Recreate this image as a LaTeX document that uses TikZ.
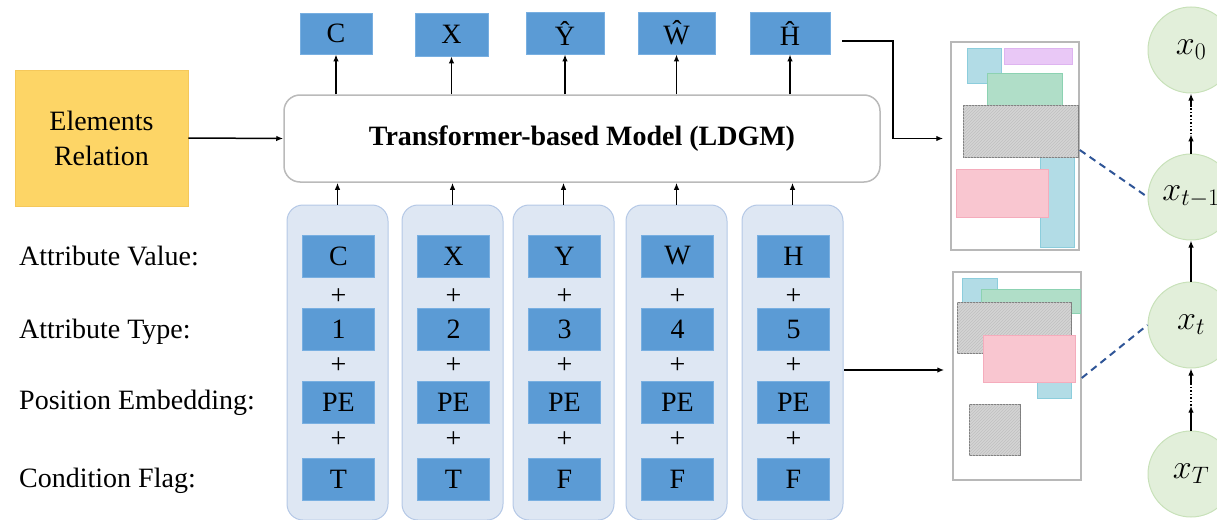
\documentclass[tikz,border=0pt]{standalone}
\usepackage{fix-cm}
\usepackage{fontspec}
\setmainfont{Liberation Serif}
\usetikzlibrary{arrows.meta,calc,patterns}

\definecolor{tokblue}{RGB}{91,155,213}
\definecolor{tokedge}{RGB}{120,175,225}
\definecolor{colfill}{RGB}{222,231,243}
\definecolor{coledge}{RGB}{180,200,230}
\definecolor{relfill}{RGB}{253,213,102}
\definecolor{reledge}{RGB}{245,200,90}
\definecolor{statefill}{RGB}{226,239,218}
\definecolor{stateedge}{RGB}{200,225,185}
\definecolor{linkblue}{RGB}{47,85,151}
\definecolor{elblue}{RGB}{178,220,230}
\definecolor{elblueedge}{RGB}{140,205,220}
\definecolor{elpurple}{RGB}{233,200,246}
\definecolor{elpurpleedge}{RGB}{222,180,240}
\definecolor{elgreen}{RGB}{176,222,200}
\definecolor{elgreenedge}{RGB}{140,210,178}
\definecolor{elpink}{RGB}{249,198,208}
\definecolor{elpinkedge}{RGB}{245,172,188}
\definecolor{elgray}{RGB}{212,212,212}
\definecolor{elgrayhatch}{RGB}{192,192,192}
\definecolor{elgrayedge}{RGB}{125,125,125}

\begin{document}
\begin{tikzpicture}[x=1pt,y=-1pt,
  font=\fontsize{28}{35}\selectfont,
  tok/.style={rectangle, fill=tokblue, draw=tokedge, line width=0.8pt,
    minimum width=72pt, minimum height=42pt, inner sep=0pt},
  colbox/.style={rectangle, rounded corners=16pt, fill=colfill, draw=coledge,
    line width=1pt, minimum width=101pt, minimum height=315pt, inner sep=0pt},
  arr/.style={-{Latex[length=7pt,width=5.5pt]}, line width=1.5pt},
  lab/.style={anchor=base west, inner sep=0pt},
  plus/.style={inner sep=0pt},
  thumb/.style={rectangle, draw=black!28, line width=1.5pt, fill=white,
    minimum width=128pt, minimum height=208pt, inner sep=0pt},
  state/.style={circle, fill=statefill, draw=stateedge, line width=1pt,
    minimum size=86pt, inner sep=0pt, font=\fontsize{34}{40}\selectfont},
  link/.style={linkblue, line width=2pt, dash pattern=on 7pt off 5pt},
  elb/.style={fill=elblue, draw=elblueedge, line width=0.8pt},
  elp/.style={fill=elpurple, draw=elpurpleedge, line width=0.8pt},
  elg/.style={fill=elgreen, draw=elgreenedge, line width=0.8pt},
  elk/.style={fill=elpink, draw=elpinkedge, line width=0.8pt},
  elh/.style={fill=elgray, postaction={pattern=north east lines, pattern color=elgrayhatch},
    draw=elgrayedge, line width=1pt}
]
\useasboundingbox (0,0) rectangle (1217,519);

% ---- relation input and the transformer ----
\node[rectangle, fill=relfill, draw=reledge, line width=0.6pt,
  minimum width=173pt, minimum height=136pt, align=center] (rel) at (101.5,138)
  {Elements\\Relation};
\node[rectangle, rounded corners=16pt, draw=black!27, line width=1.5pt, fill=white,
  minimum width=596pt, minimum height=87pt] (model) at (582,138.5)
  {\textbf{Transformer-based Model (LDGM)}};
\draw[arr] (rel.east) -- (model.west);

% ---- predicted attributes ----
\node[tok, minimum width=72pt, minimum height=41pt] (o1) at (336,33.5) {C};
\node[tok, minimum width=73pt, minimum height=43pt] (o2) at (451.5,34.5) {X};
\node[tok, minimum width=78pt, minimum height=42pt] (o3) at (565,33) {Ŷ};
\node[tok, minimum width=77pt, minimum height=42pt] (o4) at (676.5,33) {Ŵ};
\node[tok, minimum width=80pt, minimum height=42pt] (o5) at (790,33) {Ĥ};
\foreach \i in {1,...,5}
  \draw[arr] (model.north -| o\i) -- (o\i.south);

% ---- row captions ----
\node[lab] (lv) at (19,265) {Attribute Value:};
\node[lab] (lt) at (19,338) {Attribute Type:};
\node[lab] (lp) at (19,409) {Position Embedding:};
\node[lab] (lc) at (19,487) {Condition Flag:};

% ---- input token columns ----
\foreach \i/\x/\v/\t/\f in {1/337.5/C/1/T, 2/452.5/X/2/T, 3/563.5/Y/3/F,
                            4/676.5/W/4/F, 5/792.5/H/5/F}{
  \node[colbox] (c\i) at (\x,362.5) {};
  \node[tok] (v\i) at (\x+1,256) {\v};
  \node[plus] (pa\i) at (\x+1,297) {+};
  \node[tok] (a\i) at (\x+1,329.5) {\t};
  \node[plus] (pb\i) at (\x+1,366) {+};
  \node[tok] (p\i) at (\x+1,402.5) {PE};
  \node[plus] (pc\i) at (\x+1,440) {+};
  \node[tok] (f\i) at (\x+1,479) {\f};
  \draw[arr] (c\i.north) -- (c\i.north |- model.south);
}

% ---- layout thumbnails ----
\node[thumb] (t1) at (1015,146) {};
\node[thumb] (t2) at (1017,376) {};

% elements of the upper layout
\draw[elb] (967,48) rectangle (1001,83);
\draw[elp] (1004,48) rectangle (1072,64);
\draw[elg] (987,73) rectangle (1062,106);
\draw[elb] (1040,140) rectangle (1074,247);
\draw[elh] (963,105) rectangle (1078,157);
\draw[elk] (956,169) rectangle (1048,217);

% elements of the lower layout
\draw[elb] (962,278) rectangle (997,305);
\draw[elg] (981,289) rectangle (1080,313);
\draw[elh] (957,302) rectangle (1071,353);
\draw[elb] (1037,340) rectangle (1071,398);
\draw[elk] (983,335) rectangle (1075,382);
\draw[elh] (969,404) rectangle (1020,455);

% connections into the thumbnails
\coordinate (hstart) at (842,41);
\coordinate (hturn) at (893,41);
\draw[arr, shorten >=7pt] (hstart) -- (hturn) |- (t1.west |- model.center);
\coordinate (cout) at (844,370);
\draw[arr, shorten >=8pt] (cout) -- (t2.west |- cout);

% ---- diffusion chain ----
\node[state] (x0) at (1191,50) {$x_0$\hspace{8pt}};
\node[state] (xtm) at (1191,197) {$x_{t-1}$\hspace{18pt}};
\node[state] (xt) at (1191,325) {$x_t$\hspace{8pt}};
\node[state] (xT) at (1191,474) {$x_T$\hspace{8pt}};

\draw[arr] (xtm.north) -- ($(xtm.north)!0.32!(x0.south)$);
\draw[line width=1.5pt, dotted] ($(xtm.north)!0.32!(x0.south)$) -- ($(xtm.north)!0.8!(x0.south)$);
\draw[arr] ($(xtm.north)!0.8!(x0.south)$) -- (x0.south);
\draw[arr] (xt.north) -- (xtm.south);
\draw[arr] (xT.north) -- ($(xT.north)!0.4!(xt.south)$);
\draw[line width=1.5pt, dotted] ($(xT.north)!0.4!(xt.south)$) -- ($(xT.north)!0.75!(xt.south)$);
\draw[arr] ($(xT.north)!0.75!(xt.south)$) -- (xt.south);

\coordinate (d1) at (t1.east |- 0,150);
\coordinate (d2) at (t2.east |- 0,378);
\draw[link] (d1) -- (xtm.west);
\draw[link] (d2) -- (xt.west);
\end{tikzpicture}
\end{document}
